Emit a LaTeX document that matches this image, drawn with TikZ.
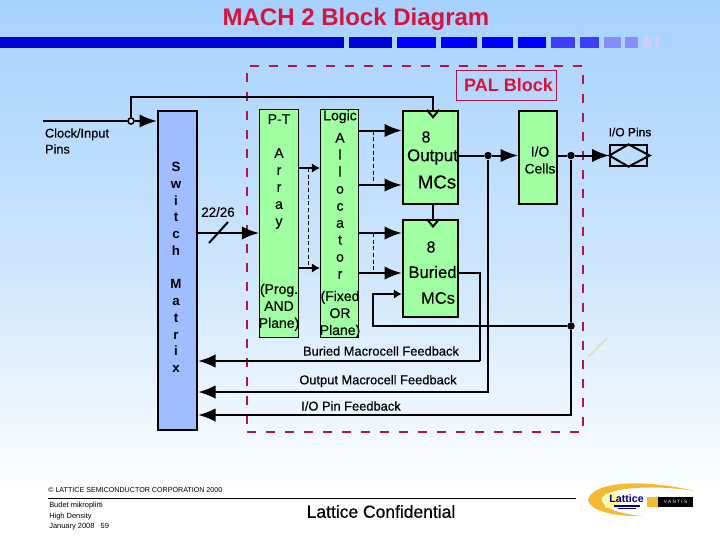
\documentclass[tikz,border=0pt]{standalone}
\usepackage{fontspec}
\setmainfont{Liberation Sans}
\newfontfamily\heavyfont[FakeBold=0.35]{Liberation Sans}
\usetikzlibrary{arrows.meta,shapes.geometric}
\definecolor{skytop}{RGB}{166,209,255}
\definecolor{skymid}{RGB}{206,230,253}
\definecolor{bardark}{RGB}{0,0,208}
\definecolor{barblue}{RGB}{0,0,255}
\definecolor{barmid}{RGB}{62,62,250}
\definecolor{barpale}{RGB}{135,140,252}
\definecolor{barfade}{RGB}{205,205,250}
\definecolor{palred}{RGB}{178,22,70}
\definecolor{titlered}{RGB}{214,20,62}
\definecolor{boxgreen}{RGB}{160,255,160}
\definecolor{boxblue}{RGB}{160,190,255}
\definecolor{logoorange}{RGB}{245,185,50}
\tikzset{
	wire/.style={line width=1.5pt, black},
	bigtip/.style={wire, -{Latex[length=13pt,width=10pt]}},
	smalltip/.style={wire, -{Latex[length=6pt,width=7pt]}},
	planebox/.style={shape=rectangle, draw, line width=0.8pt, fill=boxgreen, inner sep=0pt},
	mcbox/.style={shape=rectangle, draw, line width=1.5pt, fill=boxgreen, inner sep=0pt},
	boxtext/.style={anchor=center, align=center, inner sep=0pt, font=\heavyfont\fontsize{10.5pt}{12.75pt}\selectfont},
	smalltext/.style={anchor=center, align=left, inner sep=0pt, font=\heavyfont\fontsize{9.6pt}{12pt}\selectfont},
	footnote/.style={anchor=west, inner sep=0pt, font=\fontsize{5.6pt}{6pt}\selectfont},
	jdot/.style={shape=circle, fill=black, inner sep=0pt, minimum size=5.6pt},
}
\begin{document}
\begin{tikzpicture}[x=0.75pt, y=-0.75pt]
	\useasboundingbox (0,0) rectangle (720,540);
	% Background, title and bar:
	\shade[top color=skytop, bottom color=skymid] (0,0) rectangle (720,270);
	\shade[top color=skymid, bottom color=white] (0,270) rectangle (720,495);
	\fill[white] (0,495) rectangle (720,540);
	\node[anchor=center, inner sep=0pt, text=titlered, font=\bfseries\fontsize{18pt}{20pt}\selectfont] (title) at (356,19) {MACH 2 Block Diagram};
	\foreach \xa/\xb/\barcol in {0/344/bardark, 349/392/bardark, 397/436/barblue, 441/477/barblue, 482/513/barblue, 518/546/barblue, 551/575/barmid, 580/599/barmid, 604/621/barpale, 625/638/barpale, 643/651/barfade, 655/659/barfade}
		\fill[\barcol] (\xa,37) rectangle (\xb,48);
	% Nodes:
	\node[shape=rectangle, draw=palred, line width=1.5pt, dash pattern={on 7pt off 7.25pt}, minimum width=252pt, minimum height=274.5pt] (frame) at (415,249) {};
	\node[shape=rectangle, draw=palred, line width=0.7pt, minimum width=75.5pt, minimum height=22.5pt, inner sep=0pt] (pal) at (506.5,85) {};
	\node[anchor=center, inner sep=0pt, text=titlered, font=\bfseries\fontsize{13.5pt}{16pt}\selectfont] (paltext) at (508.5,85.5) {PAL Block};
	\node[mcbox, fill=boxblue, minimum width=29.5pt, minimum height=239pt] (sw) at (177.5,270.5) {};
	\node[boxtext, font=\bfseries\fontsize{10pt}{12.55pt}\selectfont] (swtext) at (176,267.5) {S\\w\\i\\t\\c\\h\\[12.55pt]M\\a\\t\\r\\i\\x};
	\node[planebox, minimum width=29pt, minimum height=171.5pt] (pt) at (279,223.5) {};
	\node[boxtext] (pttext) at (279,222.5) {P-T\\[12.75pt]A\\r\\r\\a\\y\\[38.25pt](Prog.\\AND\\Plane)};
	\node[planebox, minimum width=28.5pt, minimum height=171.5pt] (logic) at (339.5,223.5) {};
	\node[boxtext] (logictext) at (340,224) {Logic\\[4pt]A\\l\\l\\o\\c\\a\\t\\o\\r\\[4pt](Fixed\\OR\\Plane)};
	\node[mcbox, minimum width=41.5pt, minimum height=70pt] (output) at (430.5,157.5) {};
	\node[boxtext, font=\heavyfont\fontsize{12pt}{13pt}\selectfont] (outeight) at (426,137) {8};
	\node[boxtext, font=\heavyfont\fontsize{12.7pt}{13pt}\selectfont] (outname) at (432.5,157) {Output};
	\node[boxtext, font=\heavyfont\fontsize{14pt}{15pt}\selectfont] (outmc) at (437,182) {MCs};
	\node[mcbox, minimum width=41.5pt, minimum height=72.5pt] (buried) at (430.5,268.5) {};
	\node[boxtext, font=\heavyfont\fontsize{12pt}{13pt}\selectfont] (bureight) at (431,247) {8};
	\node[boxtext, font=\heavyfont\fontsize{12.5pt}{13pt}\selectfont] (burname) at (432.5,272) {Buried};
	\node[boxtext, font=\heavyfont\fontsize{12.4pt}{13pt}\selectfont] (burmc) at (438,298) {MCs};
	\node[mcbox, minimum width=28.5pt, minimum height=70pt] (iocell) at (538,157.5) {};
	\node[boxtext, font=\heavyfont\fontsize{10.4pt}{12.75pt}\selectfont] (iotext) at (540,160) {I/O\\Cells};
	\node[shape=rectangle, draw, line width=1.2pt, inner sep=0pt, minimum width=27.5pt, minimum height=15.5pt] (pinbox) at (628.5,155.5) {};
	\node[smalltext, font=\heavyfont\fontsize{9pt}{12pt}\selectfont] (pinlabel) at (630,132) {I/O Pins};
	\node[smalltext] (clklabel) at (77,141) {Clock/Input\\Pins};
	\node[smalltext, font=\heavyfont\fontsize{10pt}{12pt}\selectfont] (buslabel) at (218,212) {22/26};
	\node[smalltext, font=\heavyfont\fontsize{9.65pt}{12pt}\selectfont] (burfb) at (381,351) {Buried Macrocell Feedback};
	\node[smalltext, font=\heavyfont\fontsize{9.65pt}{12pt}\selectfont] (outfb) at (378,381) {Output Macrocell Feedback};
	\node[smalltext, font=\heavyfont\fontsize{9.65pt}{12pt}\selectfont] (iofb) at (351,406) {I/O Pin Feedback};
	\node[shape=circle, draw, fill=skymid, line width=1.2pt, inner sep=0pt, minimum size=4.5pt] (clkdot) at (131,121) {};
	\node[jdot] (jouta) at (488,155.5) {};
	\node[jdot] (joutb) at (571,155.5) {};
	\node[jdot] (joutc) at (571,326) {};
	% Free ends and heights:
	\coordinate (clkin) at (43,121);
	\coordinate (clktop) at (433,97);
	\coordinate (busy) at (0,233);
	\coordinate (tslash) at (209,243);
	\coordinate (bslash) at (228,222);
	\coordinate (ptup) at (0,168);
	\coordinate (ptlow) at (0,268);
	\coordinate (loa) at (0,130.5);
	\coordinate (lob) at (0,185);
	\coordinate (loc) at (0,233);
	\coordinate (lod) at (0,273);
	\coordinate (dasha) at (308,168);
	\coordinate (dashb) at (308,268);
	\coordinate (dashc) at (373,130.5);
	\coordinate (dashd) at (373,185);
	\coordinate (dashe) at (373,233);
	\coordinate (dashf) at (373,273);
	\coordinate (burback) at (373,294);
	\coordinate (burturn) at (480,361);
	\coordinate (outturn) at (488,392);
	\coordinate (ioturn) at (571,415);
	% Wires:
	\draw[wire] (clkin) -- (clkdot);
	\draw[bigtip] (clkdot) -- (sw.west |- clkdot);
	\draw[wire] (clkdot) |- (clktop) -- (output.north -| clktop);
	\draw[bigtip] (sw.east |- busy) -- (pt.west |- busy);
	\draw[line width=1.5pt] (tslash) -- (bslash);
	\draw[wire, line width=2.2pt, -{Latex[length=6pt,width=7pt]}] (pt.east |- ptup) -- (logic.west |- ptup);
	\draw[wire, line width=2.2pt, -{Latex[length=6pt,width=7pt]}] (pt.east |- ptlow) -- (logic.west |- ptlow);
	\draw[line width=0.6pt, dash pattern={on 3pt off 2pt}] (dasha) -- (dashb);
	\draw[bigtip] (logic.east |- loa) -- (output.west |- loa);
	\draw[bigtip] (logic.east |- lob) -- (output.west |- lob);
	\draw[bigtip] (logic.east |- loc) -- (buried.west |- loc);
	\draw[bigtip] (logic.east |- lod) -- (buried.west |- lod);
	\draw[line width=0.6pt, dash pattern={on 3pt off 2pt}] (dashc) -- (dashd);
	\draw[line width=0.6pt, dash pattern={on 3pt off 2pt}] (dashe) -- (dashf);
	\draw[wire] (output.south -| clktop) -- (buried.north -| clktop);
	\draw[wire] (output.east |- jouta) -- (jouta);
	\draw[bigtip] (jouta) -- (iocell.west |- jouta);
	\draw[wire] (iocell.east |- joutb) -- (joutb);
	\draw[bigtip] (joutb) -- (pinbox.west);
	\draw[wire] (joutb) -- (joutc);
	\draw[smalltip] (joutc) -| (burback) -- (buried.west |- burback);
	\draw[wire] (buried.east |- lod) -| (burturn);
	\draw[bigtip] (burturn) -- (sw.east |- burturn);
	\draw[bigtip] (jouta) |- (sw.east |- outturn);
	\draw[bigtip] (joutc) |- (sw.east |- ioturn);
	% Clock marks and pin diamond:
	\draw[line width=1.5pt] ([xshift=-4.5pt]output.north -| clktop) -- ([yshift=-5.5pt]output.north -| clktop) -- ([xshift=4.5pt]output.north -| clktop);
	\draw[line width=1.5pt] ([xshift=-4.5pt]buried.north -| clktop) -- ([yshift=-5.5pt]buried.north -| clktop) -- ([xshift=4.5pt]buried.north -| clktop);
	\draw[line width=1.5pt] (pinbox.west) -- (pinbox.north) -- ([xshift=1.5pt]pinbox.east) -- (pinbox.south) -- cycle;
	\draw[line width=1.2pt, yellow!35!skymid] (588,357) -- (607,338);
	% Footer:
	\node[footnote, font=\fontsize{5.35pt}{6pt}\selectfont] (corp) at (48,490.5) {© LATTICE SEMICONDUCTOR CORPORATION 2000};
	\draw[line width=0.6pt] (48,498.5) -- (576,498.5);
	\node[footnote] (ftone) at (49,505.5) {Budet mikroplirti};
	\node[footnote] (fttwo) at (49,516.5) {High Density};
	\node[footnote] (ftdate) at (49,526.5) {January 2008 \ \ 59};
	\node[anchor=center, inner sep=0pt, font=\heavyfont\fontsize{13.1pt}{15pt}\selectfont] (conf) at (381,511.5) {Lattice Confidential};
	% Logo:
	\fill[logoorange] (695,491) .. controls (640,478) and (592,482) .. (588,500) .. controls (590,510) and (612,517) .. (642,516) .. controls (618,514) and (600,507) .. (602,498) .. controls (607,488) and (650,484) .. (695,491);
	\fill[yellow!40!white] (605,494) rectangle (620,508);
	\node[inner sep=0pt, text=blue!55!black, font=\bfseries\fontsize{8pt}{10pt}\selectfont] (lattlogo) at (626.5,498.5) {Lattice};
	\fill[blue!55!black] (614,505) rectangle (640,506.5);
	\fill[blue!55!black] (618,507.5) rectangle (636,508.5);
	\fill[logoorange] (647,497) rectangle (658,507);
	\node[shape=rectangle, fill=black, text=white, inner sep=0pt, minimum width=26pt, minimum height=7.5pt, font=\fontsize{3.5pt}{4pt}\selectfont] (vantis) at (675.5,502) {V A N T I S};
\end{tikzpicture}
\end{document}
